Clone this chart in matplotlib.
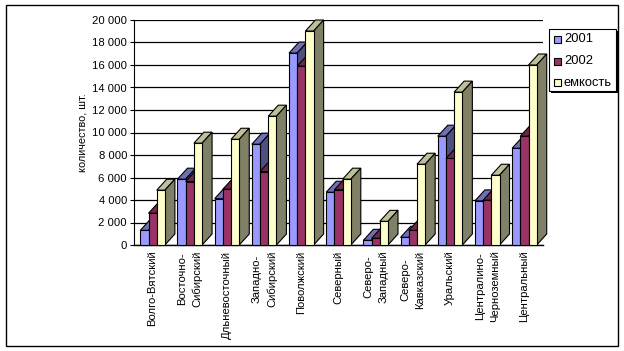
import matplotlib
matplotlib.use("Agg")
import matplotlib.pyplot as plt
from matplotlib.patches import Rectangle
from matplotlib.ticker import FuncFormatter

regions = ["Волго-Вятский", "Восточно-\nСибирский", "Дльневосточный", "Западно-\nСибирский",
           "Поволжский", "Северный", "Северо-\nЗападный", "Северо-\nКавказский",
           "Уральский", "Централино-\nЧерноземный", "Центральный"]
y2001 = [1300, 5850, 4120, 8960, 17060, 4690, 415, 680, 9670, 3920, 8600]
y2002 = [2820, 5640, 4955, 6530, 15900, 4900, 590, 1300, 7690, 3980, 9670]
capacity = [4870, 9050, 9400, 11450, 19020, 5850, 2100, 7180, 13590, 6200, 16000]

W, H = 624, 351
plt.rcParams['font.family'] = ['Liberation Sans', 'DejaVu Sans']

fig = plt.figure(figsize=(W / 100, H / 100), dpi=100)

def px_box(x0, y0, x1, y1):
    # pixel box (top-left origin) to figure fraction
    return [x0 / W, 1 - y1 / H, (x1 - x0) / W, (y1 - y0) / H]

# outer frame
fig.add_artist(Rectangle((5.5 / W, 1 - 346 / H), 612.5 / W, 341 / H, transform=fig.transFigure,
                         fill=False, ec="black", lw=1))

ax = fig.add_axes(px_box(134, 20, 543, 245))
ax.set_xlim(0, 11)
ax.set_ylim(0, 20000)
ax.patch.set_visible(False)
for s in ["top", "right", "bottom"]:
    ax.spines[s].set_visible(False)
ax.spines["left"].set_linewidth(0.8)
ax.axhline(0, color="black", lw=1, zorder=1, clip_on=False)
ax.yaxis.grid(True, color="black", lw=0.9)
ax.set_axisbelow(True)
ax.set_yticks(range(0, 20001, 2000))
ax.yaxis.set_major_formatter(FuncFormatter(lambda v, p: f"{int(v):,}".replace(",", " ")))
ax.tick_params(axis="y", labelsize=8.1, length=3, width=0.8, pad=2)
ax.set_xticks([i + 0.5 for i in range(11)])
ax.set_xticklabels(regions, rotation=90, fontsize=8.1, linespacing=1.65, ha="center", va="top")
ax.tick_params(axis="x", length=0, pad=4)
ax.set_ylabel("количество, шт.", fontsize=7.8, labelpad=3)

series = [(y2001, "#9999FF", "#6F6FB5", "#4F4F80", "2001"),
          (y2002, "#993366", "#702648", "#4D1A33", "2002"),
          (capacity, "#FFFFCC", "#BFBF99", "#808066", "емкость")]

bar_w = 8.2 * 11 / 409
dx = 10 * 11 / 409
dy = 11 * 20000 / 225
start = 6.3 * 11 / 409
z = 3
for i in range(len(regions)):
    for j, (vals, front, top, side, name) in enumerate(series):
        x0 = i + start + j * bar_w
        x1 = x0 + bar_w
        v = vals[i]
        ax.fill([x0, x1, x1 + dx, x0 + dx], [v, v, v + dy, v + dy], fc=top, ec="black", lw=0.8, zorder=z, clip_on=False)
        ax.fill([x1, x1 + dx, x1 + dx, x1], [0, dy, v + dy, v], fc=side, ec="black", lw=0.8, zorder=z, clip_on=False)
        ax.bar(x0, v, bar_w, align="edge", color=front, ec="black", lw=0.8, zorder=z + 0.1, clip_on=False)
        z += 1

# legend box with shadow, drawn in figure pixels
def fig_rect(x0, y0, x1, y1, **kw):
    fig.add_artist(Rectangle((x0 / W, 1 - y1 / H), (x1 - x0) / W, (y1 - y0) / H, transform=fig.transFigure, **kw))

fig_rect(551, 31, 618, 93, fc="black", ec="black", lw=0, zorder=20)
fig_rect(548.5, 28.5, 615.5, 90.5, fc="white", ec="black", lw=0.8, zorder=21)
for k, (vals, front, top, side, name) in enumerate(series):
    yc = 39.5 + k * 21.5
    fig_rect(553.5, yc - 3.5, 560.5, yc + 3.5, fc=front, ec="black", lw=0.8, zorder=22)
    fig.text(564 / W, 1 - yc / H, name, fontsize=9.3, va="center", ha="left", zorder=22)

fig.savefig("out.png", dpi=100)
